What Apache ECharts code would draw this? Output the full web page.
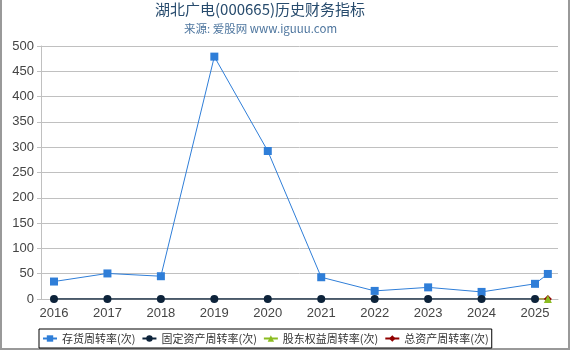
<!DOCTYPE html>
<html>
<head>
<meta charset="utf-8">
<script src="https://cdn.jsdelivr.net/npm/echarts@6/dist/echarts.min.js"></script>
<style>
html,body{margin:0;padding:0;background:#fff;}
#chart{width:570px;height:350px;}
</style>
</head>
<body>
<div id="chart"></div>
<script>
const titleText = '湖北广电(000665)历史财务指标';
const subtitleText = '来源: 爱股网 www.iguuu.com';
const seriesNames = ['存货周转率(次)', '固定资产周转率(次)', '股东权益周转率(次)', '总资产周转率(次)'];
const xYears = [2016, 2017, 2018, 2019, 2020, 2021, 2022, 2023, 2024, 2025, 2025.24];
const xTickLabels = [2016, 2017, 2018, 2019, 2020, 2021, 2022, 2023, 2024, 2025];
const inventoryTurnover = [34.5, 50.5, 45, 479, 292.5, 43, 16, 23, 14, 30, 49.5];
const fixedAssetTurnover = [0, 0, 0, 0, 0, 0, 0, 0, 0, 0];
const equityTurnoverX = [2025, 2025.24];
const equityTurnover = [0, 0];
const totalAssetTurnover = [0, 0];
const yTicks = [0, 50, 100, 150, 200, 250, 300, 350, 400, 450, 500];

const colors = ['#2f7ed8', '#0d233a', '#8bbc21', '#910000'];

const chart = echarts.init(document.getElementById('chart'), null, {renderer: 'canvas'});
const pair = (xs, ys) => ys.map((v, i) => [xs[i], v]);

chart.setOption({
  animation: false,
  color: colors,
  title: [
    {text: titleText, left: 155, top: 2, padding: 0, textStyle: {fontSize: 15, fontWeight: 'normal', color: '#274b6d', fontFamily: 'Noto Sans CJK SC'}},
    {text: subtitleText, left: 184, top: 23, padding: 0, textStyle: {fontSize: 11.5, fontWeight: 'normal', color: '#4d759e', fontFamily: 'Noto Sans CJK SC'}}
  ],
  legend: {
    bottom: 2, left: 39,
    borderColor: '#000', borderWidth: 1, borderRadius: 0,
    padding: [4, 3, 4, 3],
    itemGap: 6, itemWidth: 14, itemHeight: 8,
    textStyle: {fontSize: 11, color: '#333', fontFamily: 'Noto Sans CJK SC'},
    data: seriesNames
  },
  grid: {left: 41, right: 12, top: 46, bottom: 51, containLabel: false},
  xAxis: {
    type: 'value', min: 2015.757, max: 2025.43,
    offset: 4,
    axisLine: {lineStyle: {color: '#c0c0c0'}},
    axisTick: {show: true, length: 4, lineStyle: {color: '#c0c0c0'}, customValues: xTickLabels},
    axisLabel: {customValues: xTickLabels, fontSize: 13, color: '#444', margin: 4, formatter: v => String(Math.round(v))},
    splitLine: {show: false}
  },
  yAxis: {
    type: 'value', min: 0, max: 500, interval: 50,
    axisLine: {show: true, lineStyle: {color: '#c0c0c0'}},
    axisTick: {show: true, length: 4, lineStyle: {color: '#c0c0c0'}},
    axisLabel: {fontSize: 13, color: '#444', margin: 7},
    splitLine: {lineStyle: {color: '#c0c0c0'}}
  },
  series: [
    {name: seriesNames[0], type: 'line', data: pair(xYears, inventoryTurnover), symbol: 'rect', symbolSize: 8, lineStyle: {width: 1}, itemStyle: {color: colors[0]}},
    {name: seriesNames[3], type: 'line', data: pair(equityTurnoverX, totalAssetTurnover).map((d, i) => ({value: d, symbolSize: i === 0 ? 0 : 8})), symbol: 'diamond', lineStyle: {width: 1}, itemStyle: {color: colors[3]}},
    {name: seriesNames[2], type: 'line', data: pair(equityTurnoverX, equityTurnover).map((d, i) => ({value: d, symbolSize: i === 0 ? 0 : 8})), symbol: 'triangle', lineStyle: {width: 1}, itemStyle: {color: colors[2]}},
    {name: seriesNames[1], type: 'line', data: pair(xYears, fixedAssetTurnover), symbol: 'circle', symbolSize: 8, lineStyle: {width: 1.5}, itemStyle: {color: colors[1]}}
  ],
  graphic: [{
    type: 'polyline', silent: true,
    shape: {points: [[1, 0], [1, 349], [569, 349], [569, 0]]},
    style: {stroke: '#999', lineWidth: 2, fill: null}
  }]
});
</script>
</body>
</html>
